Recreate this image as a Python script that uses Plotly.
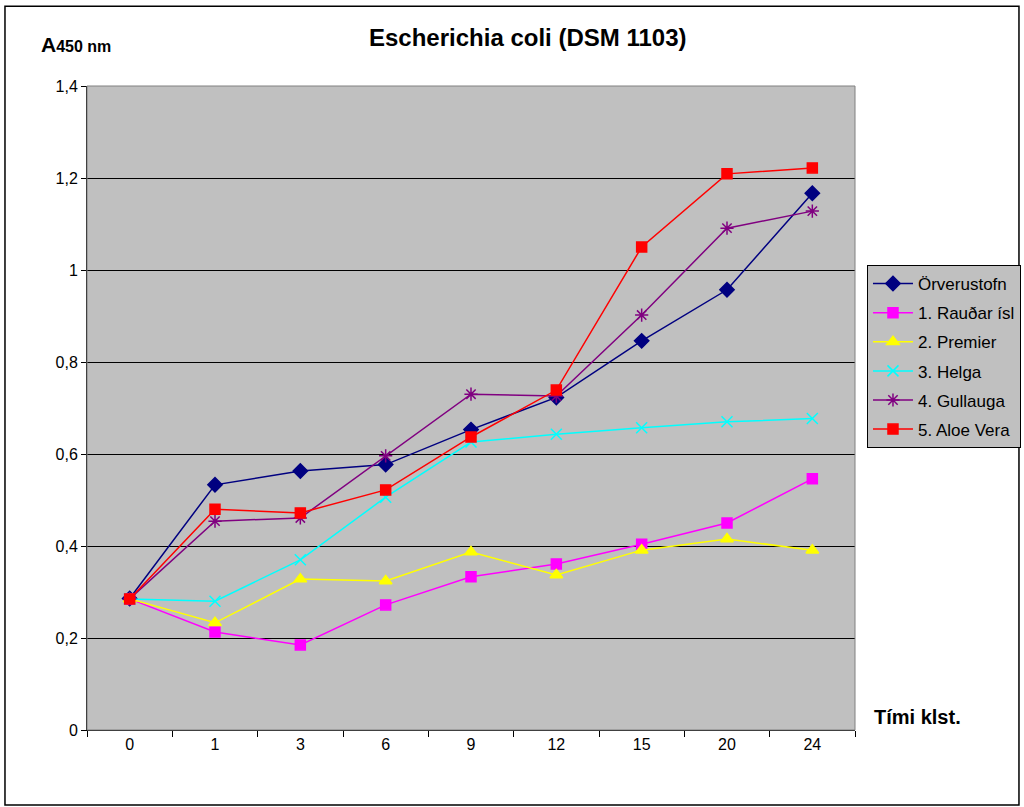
import plotly.graph_objects as go

categories = ["0", "1", "3", "6", "9", "12", "15", "20", "24"]

orverustofn = [0.286, 0.533, 0.563, 0.577, 0.653, 0.723, 0.846, 0.957, 1.167]
raudar_isl = [0.285, 0.213, 0.185, 0.272, 0.333, 0.361, 0.404, 0.450, 0.546]
premier = [0.285, 0.233, 0.328, 0.324, 0.387, 0.337, 0.391, 0.415, 0.391]
helga = [0.285, 0.280, 0.370, 0.506, 0.626, 0.643, 0.657, 0.670, 0.677]
gullauga = [0.285, 0.454, 0.461, 0.596, 0.730, 0.726, 0.902, 1.091, 1.128]
aloe_vera = [0.285, 0.480, 0.472, 0.522, 0.637, 0.739, 1.050, 1.209, 1.222]

series_names = ["Örverustofn", "1. Rauðar ísl", "2. Premier", "3. Helga", "4. Gullauga", "5. Aloe Vera"]
series_values = [orverustofn, raudar_isl, premier, helga, gullauga, aloe_vera]
colors = ["#000080", "#FF00FF", "#FFFF00", "#00FFFF", "#800080", "#FF0000"]
symbols = ["diamond", "square", "triangle-up", "x-thin-open", "asterisk-open", "square"]
sizes = [11, 10, 11, 11, 11, 10]

FONT = "Arial, Liberation Sans, sans-serif"

fig = go.Figure()
for i, (name, vals) in enumerate(zip(series_names, series_values)):
    fig.add_trace(go.Scatter(
        x=categories, y=vals, name=name, mode="lines+markers",
        legendgroup=f"g{i}",
        line=dict(color=colors[i], width=1.5),
        marker=dict(symbol=symbols[i], size=sizes[i], color=colors[i],
                    line=dict(color=colors[i], width=1.5)),
    ))

fig.update_layout(
    width=1024, height=807,
    margin=dict(l=87, r=169, t=86, b=77, autoexpand=False),
    paper_bgcolor="white",
    plot_bgcolor="#C0C0C0",
    separators=", ",
    font=dict(family=FONT, size=16, color="black"),
    showlegend=True,
    legend=dict(
        x=1.0156, y=0.722, xanchor="left", yanchor="top",
        bgcolor="#C0C0C0", bordercolor="black", borderwidth=1,
        font=dict(family=FONT, size=17, color="black"),
        traceorder="grouped", tracegroupgap=4,
        itemwidth=40,
    ),
    xaxis=dict(
        type="category", showgrid=False, showline=True, linecolor="black", linewidth=1,
        ticks="outside", tickson="boundaries", ticklen=6, tickcolor="black",
        tickfont=dict(family=FONT, size=16, color="black"),
        range=[-0.5, 8.5],
    ),
    yaxis=dict(
        range=[0, 1.4], dtick=0.2, showgrid=True, gridcolor="black", gridwidth=1,
        showline=True, linecolor="black", linewidth=1,
        ticks="outside", ticklen=5, tickcolor="black", zeroline=False,
        tickfont=dict(family=FONT, size=16, color="black"),
    ),
    shapes=[
        dict(type="rect", xref="paper", yref="paper", x0=0, x1=1, y0=0, y1=1,
             line=dict(color="#808080", width=1), fillcolor="rgba(0,0,0,0)", layer="above"),
        dict(type="rect", xref="paper", yref="paper", x0=-0.1068, x1=1.2135, y0=-0.1165, y1=1.124,
             line=dict(color="black", width=1.5), fillcolor="rgba(0,0,0,0)"),
    ],
    annotations=[
        dict(text="<b>Escherichia coli (DSM 1103)</b>", xref="paper", yref="paper",
             x=0.574, y=1.075, xanchor="center", yanchor="middle", showarrow=False,
             font=dict(family=FONT, size=24, color="black")),
        dict(text="<b>A</b><span style='font-size:16px'><b>450 nm</b></span>", xref="paper", yref="paper",
             x=-0.063, y=1.065, xanchor="left", yanchor="middle", showarrow=False,
             font=dict(family=FONT, size=21, color="black")),
        dict(text="<b>Tími klst.</b>", xref="paper", yref="paper",
             x=1.022, y=0.02, xanchor="left", yanchor="middle", showarrow=False,
             font=dict(family=FONT, size=20, color="black")),
    ],
)

fig.write_html("out.html", config={"displayModeBar": False},
               post_script="document.body.style.margin='0px';document.body.style.overflow='hidden';")
